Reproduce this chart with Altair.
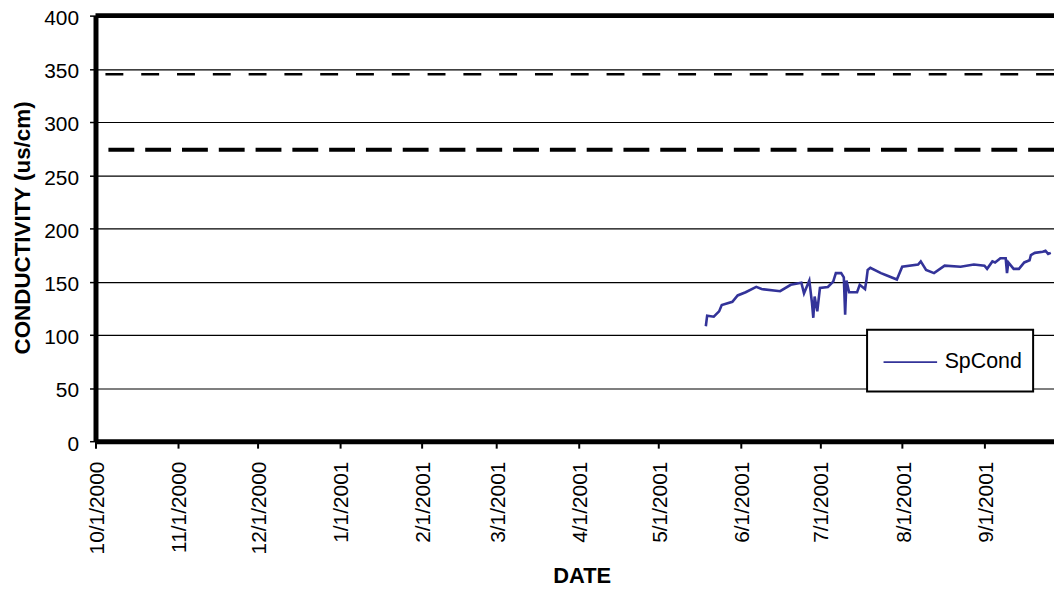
import altair as alt
import pandas as pd

# SpCond series
dates = ["2001-05-19T00:00", "2001-05-19T12:00", "2001-05-22T00:00", "2001-05-24T00:00",
         "2001-05-25T00:00", "2001-05-29T00:00", "2001-05-31T00:00", "2001-06-03T00:00",
         "2001-06-07T00:00", "2001-06-09T00:00", "2001-06-16T00:00", "2001-06-20T00:00",
         "2001-06-24T00:00", "2001-06-25T00:00", "2001-06-27T00:00", "2001-06-28T00:00",
         "2001-06-28T12:00", "2001-06-29T00:00", "2001-06-30T00:00", "2001-07-01T00:00",
         "2001-07-04T00:00", "2001-07-06T00:00", "2001-07-07T00:00", "2001-07-09T00:00",
         "2001-07-10T00:00", "2001-07-10T12:00", "2001-07-11T00:00", "2001-07-12T00:00",
         "2001-07-15T00:00", "2001-07-16T00:00", "2001-07-18T00:00", "2001-07-18T12:00",
         "2001-07-19T00:00", "2001-07-20T00:00", "2001-07-24T00:00", "2001-07-26T00:00",
         "2001-07-30T00:00", "2001-08-01T00:00", "2001-08-07T00:00", "2001-08-08T00:00",
         "2001-08-10T00:00", "2001-08-13T00:00", "2001-08-17T00:00", "2001-08-23T00:00",
         "2001-08-28T00:00", "2001-09-01T00:00", "2001-09-02T00:00", "2001-09-04T00:00",
         "2001-09-05T00:00", "2001-09-07T00:00", "2001-09-09T00:00", "2001-09-09T12:00",
         "2001-09-10T00:00", "2001-09-12T00:00", "2001-09-14T00:00", "2001-09-16T00:00",
         "2001-09-18T00:00", "2001-09-18T12:00", "2001-09-20T00:00", "2001-09-23T00:00",
         "2001-09-24T00:00", "2001-09-25T00:00", "2001-09-26T00:00"]
spcond = [108, 118, 117, 122, 128, 131, 137, 140, 145, 143, 141, 147, 149, 139, 151, 130,
          116, 136, 122, 144, 145, 150, 158, 158, 154, 119, 151, 140, 140, 147, 143, 151,
          161, 163, 158, 156, 152, 164, 166, 169, 161, 158, 165, 164, 166, 165, 162, 169,
          168, 172, 172, 158, 168, 162, 162, 168, 170, 175, 177, 178, 179, 176, 177]
series_name = "SpCond"

# reference lines
upper_limit = 345
lower_limit = 274
y_top = 400

# axis ticks
y_ticks = [0, 50, 100, 150, 200, 250, 300, 350, 400]
month_ticks = [(2000, 10), (2000, 11), (2000, 12), (2001, 1), (2001, 2), (2001, 3),
               (2001, 4), (2001, 5), (2001, 6), (2001, 7), (2001, 8), (2001, 9)]

df = pd.DataFrame({"date": dates, "value": spcond, "series": series_name})

x_scale = alt.Scale(domain=[alt.DateTime(year=2000, month=10, date=1),
                            alt.DateTime(year=2001, month=9, date=27, hours=5)])
y_scale = alt.Scale(domain=[0, 400])

FONT = "Arial, Liberation Sans"

x_axis = alt.Axis(
    values=[alt.DateTime(year=y, month=m, date=1) for y, m in month_ticks],
    format="%-m/%-d/%Y", labelAngle=270, labelAlign="right", labelBaseline="middle",
    labelFontSize=21, labelPadding=13, labelOffset=2, labelColor="black", labelFont=FONT,
    tickSize=7, tickWidth=2, tickColor="black",
    domainColor="black", domainWidth=5, grid=False, labelOverlap=False,
    title="DATE", titleFontSize=22, titleFontWeight="bold", titleFont=FONT,
    titleColor="black", titleX=489, titleY=135, titleBaseline="middle", titleAlign="center",
)
y_axis = alt.Axis(
    values=y_ticks, labelFontSize=21, labelPadding=11, labelOffset=3, labelColor="black",
    labelFont=FONT, tickSize=6, tickWidth=1.5, tickColor="black",
    domainColor="black", domainWidth=5,
    grid=True, gridColor="black", gridWidth=1.2, gridOpacity=1,
    title="CONDUCTIVITY (us/cm)", titleFontSize=22.5, titleFontWeight="bold", titleFont=FONT,
    titleColor="black", titleX=-73.5, titleY=213, titleAngle=270,
    titleBaseline="middle", titleAlign="center",
)

legend_symbol = "M-1.32,0H1.32M0,0.72L0,0.72"

line = alt.Chart(df).mark_line(strokeWidth=2.6, clip=True).encode(
    x=alt.X("date:T", scale=x_scale, axis=x_axis),
    y=alt.Y("value:Q", scale=y_scale, axis=y_axis),
    color=alt.Color("series:N", scale=alt.Scale(range=["#333399"]),
                    legend=alt.Legend(title=None, orient="none", legendX=776, legendY=316,
                                      fillColor="white", strokeColor="black",
                                      padding=11, symbolType=legend_symbol, symbolSize=1665,
                                      symbolStrokeWidth=1.6, symbolOffset=11, labelOffset=13,
                                      labelFontSize=21.5, labelFont=FONT, labelColor="black")),
)

upper = alt.Chart(pd.DataFrame({"v": [upper_limit]})).mark_rule(
    color="black", strokeWidth=2.5, strokeDash=[18, 18]).encode(y=alt.Y("v:Q", scale=y_scale))
lower = alt.Chart(pd.DataFrame({"v": [lower_limit]})).mark_rule(
    color="black", strokeWidth=4, strokeDash=[26, 11]).encode(y=alt.Y("v:Q", scale=y_scale))
top = alt.Chart(pd.DataFrame({"v": [y_top]})).mark_rule(
    color="black", strokeWidth=5).encode(y=alt.Y("v:Q", scale=y_scale))

chart = alt.layer(upper, lower, top, line).properties(
    width=964, height=428,
    autosize=alt.AutoSizeParams(type="none"),
    padding={"left": 88, "top": 6, "right": 0, "bottom": 148},
    background="white",
).configure_view(stroke=None).configure(font=FONT).configure_legend(strokeWidth=2)

chart.save("out.html", embed_options={"renderer": "svg", "actions": False})
